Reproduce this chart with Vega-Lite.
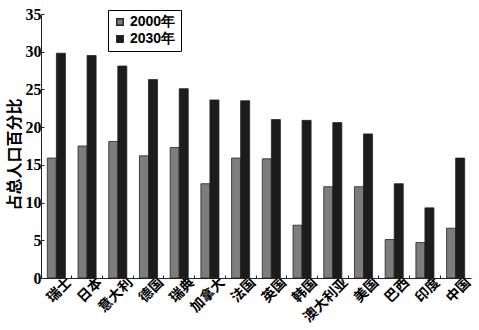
{
  "$schema": "https://vega.github.io/schema/vega-lite/v6.json",
  "width": 430,
  "height": 264,
  "autosize": "none",
  "padding": {"left": 41, "top": 14, "right": 8, "bottom": 52},
  "background": "white",
  "data": {
    "values": [
      {"country": "瑞士", "year": "2000年", "value": 15.9},
      {"country": "瑞士", "year": "2030年", "value": 29.8},
      {"country": "日本", "year": "2000年", "value": 17.5},
      {"country": "日本", "year": "2030年", "value": 29.5},
      {"country": "意大利", "year": "2000年", "value": 18.1},
      {"country": "意大利", "year": "2030年", "value": 28.1},
      {"country": "德国", "year": "2000年", "value": 16.2},
      {"country": "德国", "year": "2030年", "value": 26.3},
      {"country": "瑞典", "year": "2000年", "value": 17.3},
      {"country": "瑞典", "year": "2030年", "value": 25.1},
      {"country": "加拿大", "year": "2000年", "value": 12.5},
      {"country": "加拿大", "year": "2030年", "value": 23.6},
      {"country": "法国", "year": "2000年", "value": 15.9},
      {"country": "法国", "year": "2030年", "value": 23.5},
      {"country": "英国", "year": "2000年", "value": 15.8},
      {"country": "英国", "year": "2030年", "value": 21.0},
      {"country": "韩国", "year": "2000年", "value": 7.0},
      {"country": "韩国", "year": "2030年", "value": 20.9},
      {"country": "澳大利亚", "year": "2000年", "value": 12.1},
      {"country": "澳大利亚", "year": "2030年", "value": 20.6},
      {"country": "美国", "year": "2000年", "value": 12.1},
      {"country": "美国", "year": "2030年", "value": 19.1},
      {"country": "巴西", "year": "2000年", "value": 5.1},
      {"country": "巴西", "year": "2030年", "value": 12.5},
      {"country": "印度", "year": "2000年", "value": 4.7},
      {"country": "印度", "year": "2030年", "value": 9.3},
      {"country": "中国", "year": "2000年", "value": 6.6},
      {"country": "中国", "year": "2030年", "value": 15.9}
    ]
  },
  "mark": {"type": "bar", "stroke": "#222", "strokeWidth": 0.8},
  "encoding": {
    "x": {
      "field": "country",
      "type": "nominal",
      "sort": null,
      "scale": {"paddingInner": 0, "paddingOuter": 0},
      "axis": {
        "title": null,
        "labelAngle": -45,
        "labelAlign": "right",
        "labelBaseline": "middle",
        "labelFont": "Noto Sans CJK SC",
        "labelFontWeight": "bold",
        "labelFontSize": 14,
        "labelColor": "black",
        "labelPadding": 5,
        "bandPosition": 0,
        "labelOffset": 13,
        "tickSize": -3,
        "tickColor": "#222",
        "domainColor": "#222",
        "grid": false
      }
    },
    "xOffset": {
      "field": "year",
      "type": "nominal",
      "scale": {"paddingInner": 0, "paddingOuter": 0.7}
    },
    "y": {
      "field": "value",
      "type": "quantitative",
      "scale": {"domain": [0, 35], "nice": false},
      "axis": {
        "title": "占总人口百分比",
        "titleFont": "Noto Sans CJK SC",
        "titleFontSize": 16,
        "titleFontWeight": "bold",
        "titleColor": "black",
        "titleX": -27,
        "titleY": 140,
        "titleBaseline": "middle",
        "values": [0, 5, 10, 15, 20, 25, 30, 35],
        "labelFont": "Liberation Serif",
        "labelFontSize": 16,
        "labelFontWeight": "bold",
        "labelColor": "black",
        "labelPadding": 3,
        "tickSize": -3,
        "tickColor": "#222",
        "domainColor": "#222",
        "grid": false
      }
    },
    "color": {
      "field": "year",
      "type": "nominal",
      "scale": {"domain": ["2000年", "2030年"], "range": ["#7d7d7d", "#1c1c1c"]},
      "legend": {
        "title": null,
        "orient": "none",
        "legendX": 67,
        "legendY": -4,
        "symbolType": "square",
        "symbolSize": 40,
        "symbolStrokeColor": "#222",
        "labelFont": "Liberation Sans",
        "labelFontSize": 14,
        "labelFontWeight": "bold",
        "labelColor": "black",
        "labelOffset": 3,
        "rowPadding": 3,
        "strokeColor": "black",
        "padding": 5,
        "fillColor": "white"
      }
    }
  },
  "config": {"view": {"stroke": null}}
}
